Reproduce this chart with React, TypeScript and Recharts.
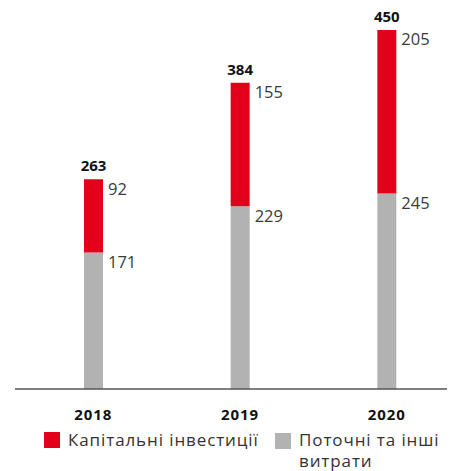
import * as React from "react"
import { Bar, BarChart, LabelList, XAxis, YAxis } from "recharts"

const years = ["2018", "2019", "2020"]
const capital = [92, 155, 205]
const current = [171, 229, 245]

const seriesNames = ["Капітальні інвестиції", "Поточні та інші витрати"]
const RED = "#e3001b"
const GREY = "#b2b2b2"
const FONT = "'Open Sans', sans-serif"

const data = years.map((year, i) => ({
  year,
  capital: capital[i],
  current: current[i],
  total: capital[i] + current[i],
}))

// value to the right of the segment, near its top edge
const SideLabel = (props: any) => {
  const { x, y, width, value } = props
  return (
    <text
      x={x + width + 5}
      y={y + 11}
      dominantBaseline="middle"
      fontSize={16.5}
      fontFamily={FONT}
      fill="#3a3a3a"
    >
      {value}
    </text>
  )
}

const TotalLabel = (props: any) => {
  const { x, y, width, value } = props
  return (
    <text
      x={x + width / 2}
      y={y - 12}
      textAnchor="middle"
      dominantBaseline="middle"
      fontSize={15}
      fontWeight={700}
      fontFamily={FONT}
      fill="#111"
    >
      {value}
    </text>
  )
}

export default function App() {
  return (
    <div
      style={{ position: "relative", width: 447, height: 471, marginTop: -8, overflow: "hidden", fontFamily: FONT }}
    >
      <BarChart
        width={452}
        height={471}
        data={data}
        margin={{ top: 30, right: 0, left: 7, bottom: 52 }}
      >
        <XAxis
          dataKey="year"
          height={30}
          padding={{ left: 5, right: 0 }}
          axisLine={{ stroke: "#555", strokeWidth: 1.5 }}
          tickLine={false}
          tickSize={0}
          tickMargin={20}
          tick={{ fontSize: 15, fontWeight: 700, fill: "#111", fontFamily: FONT, letterSpacing: 0.9 }}
        />
        <YAxis hide domain={[0, 450]} />
        <Bar dataKey="current" stackId="a" fill={GREY} barSize={19} isAnimationActive={false}>
          <LabelList dataKey="current" content={SideLabel} />
        </Bar>
        <Bar dataKey="capital" stackId="a" fill={RED} barSize={19} isAnimationActive={false}>
          <LabelList dataKey="capital" content={SideLabel} />
          <LabelList dataKey="total" content={TotalLabel} />
        </Bar>
      </BarChart>

      <div style={{ position: "absolute", left: 36, top: 432, width: 16, height: 16, background: RED }} />
      <div
        style={{ position: "absolute", left: 60, top: 429, fontSize: 17, lineHeight: "21px", color: "#333", whiteSpace: "nowrap", letterSpacing: 0.9 }}
      >
        {seriesNames[0]}
      </div>
      <div style={{ position: "absolute", left: 267, top: 433, width: 16, height: 16, background: GREY }} />
      <div
        style={{ position: "absolute", left: 291, top: 429, width: 156, fontSize: 17, lineHeight: "21px", color: "#333", letterSpacing: 0.9 }}
      >
        {seriesNames[1]}
      </div>
    </div>
  )
}
